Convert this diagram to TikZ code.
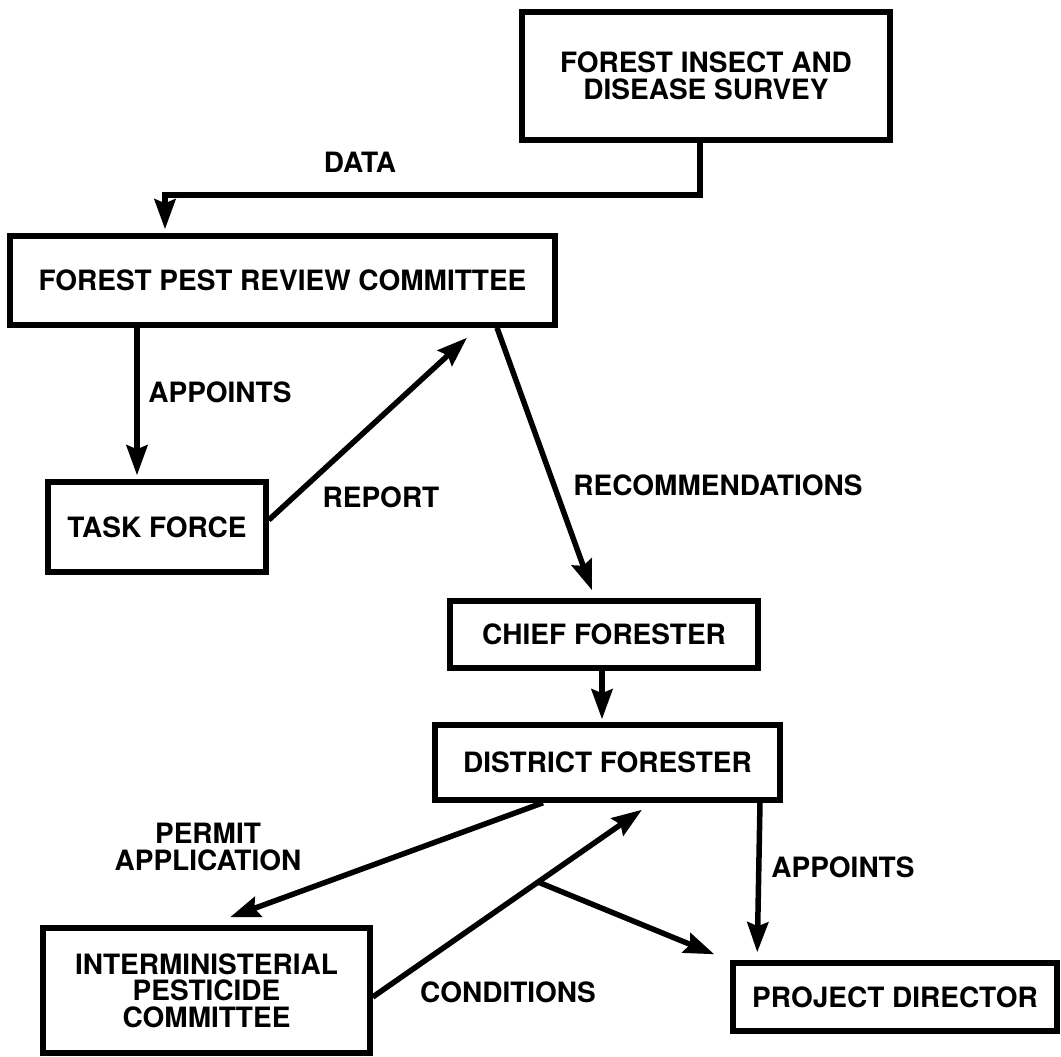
\documentclass[tikz,border=0pt]{standalone}
\usepackage{fontspec}
\setmainfont{TeX Gyre Heros}
\usetikzlibrary{arrows.meta,calc}

\tikzset{
  lbl/.style={font=\fontsize{28}{26.5}\selectfont\bfseries, align=center, inner sep=0pt},
  box/.style={lbl, draw, line width=5.5pt, rectangle},
  arr/.style={line width=5.5pt, -{Stealth[length=30pt,width=21pt,inset=4pt]}},
}

\begin{document}
\begin{tikzpicture}[x=1pt,y=-1pt]
  \useasboundingbox (0,0) rectangle (1061,1057);

  % boxes
  \node[box, minimum width=368pt, minimum height=128pt] (survey) at (706,76)
    {FOREST INSECT AND\\DISEASE SURVEY};
  \node[box, minimum width=545pt, minimum height=89pt] (fprc) at (282.5,280.5)
    {FOREST PEST REVIEW COMMITTEE};
  \node[box, minimum width=218pt, minimum height=90pt] (tf) at (157,527)
    {TASK FORCE};
  \node[box, minimum width=308pt, minimum height=67pt] (cf) at (604,634.5)
    {CHIEF FORESTER};
  \node[box, minimum width=345pt, minimum height=75pt] (df) at (607.5,762.5)
    {DISTRICT FORESTER};
  \node[box, minimum width=327pt, minimum height=125pt] (ipc) at (206.5,990.5)
    {INTERMINISTERIAL\\PESTICIDE\\COMMITTEE};
  \node[box, minimum width=324pt, minimum height=68pt] (pd) at (895,997)
    {PROJECT DIRECTOR};

  % connectors
  \draw[arr, line join=miter] ([xshift=-6pt]survey.south) -- ++(0,52)
    -| ([xshift=-117.5pt,yshift=4pt]fprc.north);
  \draw[arr] ([xshift=-145.5pt]fprc.south) -- ([xshift=-20pt,yshift=4pt]tf.north);
  \draw[arr] ([yshift=7pt]tf.east) -- ([xshift=184.5pt,yshift=-10pt]fprc.south);
  \draw[arr] ([xshift=214.5pt]fprc.south) -- ([xshift=-12pt,yshift=8pt]cf.north);
  \draw[arr] ([xshift=-2pt]cf.south) -- ([xshift=-5.5pt,yshift=3pt]df.north);
  \draw[arr] ([xshift=-64.5pt]df.south) -- ([xshift=23.5pt,yshift=8pt]ipc.north);
  \coordinate (condA) at ([yshift=-6.5pt]ipc.east);
  \coordinate (condB) at ([xshift=34.5pt,yshift=-7pt]df.south);
  \draw[arr] (condA) -- (condB);
  \coordinate (br) at ($(condA)!0.614!(condB)$);
  \draw[arr] (br) -- ([xshift=-16pt,yshift=6pt]pd.north west);
  \draw[arr] ([xshift=152.5pt]df.south) -- ([xshift=27pt,yshift=8pt]pd.north west);

  % connector labels
  \node[lbl] (ldata) at (360,162) {DATA};
  \node[lbl] (lapp1) at (220,392) {APPOINTS};
  \node[lbl] (lrep) at (381,497) {REPORT};
  \node[lbl] (lrec) at (718,485) {RECOMMENDATIONS};
  \node[lbl] (lperm) at (208,847) {PERMIT\\APPLICATION};
  \node[lbl] (lcond) at (508,992) {CONDITIONS};
  \node[lbl] (lapp2) at (843,867) {APPOINTS};
\end{tikzpicture}
\end{document}
